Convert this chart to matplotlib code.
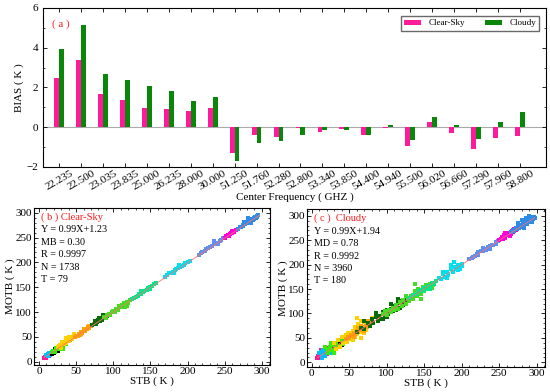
import numpy as np
import matplotlib.pyplot as plt

plt.rcParams['font.family'] = ['Liberation Serif', 'DejaVu Serif']

# ---- panel (a): bias per channel
freqs = ['22.235', '22.500', '23.035', '23.835', '25.000', '26.235', '28.000', '30.000',
         '51.250', '51.760', '52.280', '52.800', '53.340', '53.850', '54.400', '54.940',
         '55.500', '56.020', '56.660', '57.290', '57.960', '58.800']
bias_clear = [2.49, 3.38, 1.67, 1.35, 0.96, 0.91, 0.82, 0.98, -1.31, -0.40, -0.51, -0.02,
              -0.25, -0.08, -0.39, -0.05, -0.94, 0.24, -0.30, -1.09, -0.56, -0.42]
bias_cloudy = [3.94, 5.12, 2.66, 2.39, 2.09, 1.83, 1.31, 1.53, -1.68, -0.77, -0.71, -0.40,
               -0.15, -0.15, -0.40, 0.12, -0.64, 0.49, 0.10, -0.57, 0.27, 0.74]

# ---- scatter groups (STB, MOTB) (b) and (c)
group_colors = ['#ff1493', '#00bfff', 'black', '#33ee00', '#ffd000', '#ffa000', '#0a6a0a',
                '#44dd22', '#00e88a', '#00e0ee', '#5b8ff0', '#ff00dd', '#2f8be8']

clear_pts = [
    [(7,8),(8,9),(8,10),(9,9),(9,11),(10,10),(10,12),(11,11),(11,13),(12,12),(12,14),(13,13),(14,14),(15,15),(9,8),(13,12)],
    [(10,14),(12,15),(13,17),(14,13),(15,18),(16,16),(17,19),(18,17),(19,21),(20,20),(12,11),(15,14),(21,22),(17,15)],
    [(17,16),(19,20),(20,18),(21,23),(22,21),(23,22),(24,26),(25,24),(26,25),(27,28),(28,27),(22,25),(25,21),(29,30),(30,29)],
    [(18,20),(20,22),(22,19),(23,27),(25,29),(27,25),(28,31),(30,33),(32,30),(34,38),(36,35),(38,42),(40,41),(42,44),(44,47),(33,26)],
    [(25,30),(27,32),(29,34),(30,28),(32,36),(34,35),(35,40),(37,38),(38,44),(40,42),(42,45),(43,48),(45,46),(46,50),(48,49),(36,47),(40,50),(47,55),(31,40)],
    [(48,50),(50,52),(52,51),(54,56),(55,54),(57,60),(58,58),(60,63),(62,61),(63,66),(65,65),(66,69),(68,68),(70,72),(72,73),(74,75),(76,78),(61,65),(67,71),(56,55)],
    [(72,74),(75,77),(77,75),(78,80),(80,83),(82,81),(84,86),(85,84),(87,89),(88,87),(90,92),(92,91),(75,81),(81,88),(86,93)],
    [(88,90),(90,88),(92,94),(94,96),(96,95),(98,100),(100,102),(102,100),(104,106),(106,105),(108,112),(110,110),(112,115),(113,111),(115,118),(117,116),(118,121),(120,119),(122,124),(116,110),(119,113)],
    [(125,127),(128,129),(130,131),(133,133),(135,136),(137,136),(140,141),(142,143),(145,145),(147,148),(149,150),(152,152),(155,156),(158,158),(138,143),(150,146)],
    [(170,171),(173,174),(175,178),(178,178),(180,181),(183,184),(185,186),(187,188),(190,191),(192,193),(195,195),(197,199),(200,200),(203,203),(188,195),(182,178)],
    [(215,215),(218,218),(220,221),(223,222),(225,226),(228,229),(230,230),(233,233),(235,236),(238,239),(240,240),(243,243),(245,246),(248,249),(235,243),(241,236)],
    [(250,250),(252,253),(254,254),(255,256),(257,257),(258,259),(260,260),(262,262),(263,264),(265,265),(256,253),(260,263)],
    [(268,268),(270,271),(272,272),(274,275),(275,273),(277,278),(278,280),(280,281),(281,279),(283,284),(284,286),(285,283),(287,288),(288,285),(289,290),(290,288),(291,292),(292,290),(293,294),(294,292),(295,295),(282,290),(286,280),(276,282)],
]

cloudy_pts = [
    [(7,8),(8,12),(9,10),(10,15),(10,9),(11,13),(12,18),(12,11),(13,16),(14,20),(14,12),(15,15),(16,22),(16,17),(17,14),(18,19),(18,25),(19,21),(20,17),(21,23),(22,27),(23,20),(24,26),(25,22),(12,25),(9,18),(20,30)],
    [(10,20),(12,22),(14,16),(15,25),(17,24),(19,27),(20,18),(22,24),(24,30),(26,28),(28,22),(13,8),(18,12),(25,18),(30,30),(27,33)],
    [(25,27),(28,32),(30,35),(32,30),(33,38),(35,36),(36,41),(37,39),(38,43),(39,37),(40,42),(41,40),(42,45),(43,41),(45,44),(34,40),(38,38),(40,36),(30,28),(46,50)],
    [(20,28),(22,20),(24,32),(26,25),(28,36),(30,26),(32,40),(34,33),(36,45),(38,34),(40,48),(42,38),(44,50),(46,42),(48,53),(50,47),(26,40),(30,18),(18,32)],
    [(30,40),(32,28),(35,45),(38,32),(40,52),(42,40),(45,55),(47,42),(50,60),(52,48),(55,65),(57,52),(58,72),(60,58),(62,78),(64,62),(66,85),(68,70),(70,82),(72,66),(75,80),(78,75),(60,90),(55,45),(48,60),(70,60),(80,90),(65,50)],
    [(45,48),(48,52),(50,50),(52,56),(54,53),(56,60),(58,57),(60,64),(62,61),(64,67),(66,66),(68,72),(70,70),(72,75),(74,73),(76,80),(78,77),(80,83),(62,70),(70,64),(56,52),(75,85),(65,75)],
    [(60,62),(65,70),(70,68),(75,80),(78,74),(80,88),(82,80),(85,92),(88,85),(90,95),(92,88),(95,102),(98,95),(100,108),(102,98),(105,110),(108,104),(110,115),(112,108),(115,122),(118,112),(120,125),(122,118),(125,128),(85,100),(95,88),(105,120),(70,85),(115,130),(100,92)],
    [(95,98),(98,104),(100,96),(103,108),(105,102),(108,112),(110,107),(112,118),(115,110),(118,124),(120,115),(122,128),(125,120),(128,132),(130,126),(132,136),(135,130),(138,145),(140,135),(142,150),(145,140),(148,155),(150,145),(152,158),(155,150),(158,160),(160,152),(138,160),(145,130),(125,135),(162,158)],
    [(130,132),(135,137),(140,140),(145,147),(148,146),(150,152),(153,151),(155,157),(158,156),(160,162),(163,161),(165,166),(143,145),(157,150)],
    [(170,172),(172,170),(175,180),(178,175),(180,185),(182,178),(185,190),(188,184),(190,196),(192,190),(195,200),(197,192),(200,202),(198,195),(185,200),(190,205),(180,172),(195,188),(175,185),(200,198)],
    [(210,212),(213,214),(215,216),(218,217),(220,222),(222,220),(225,227),(228,227),(230,232),(232,230),(235,237),(238,238),(240,241),(242,240),(245,246),(248,248),(228,234),(238,232),(222,226),(245,242)],
    [(250,250),(252,252),(254,256),(255,253),(257,258),(258,255),(260,262),(262,260),(263,265),(265,263),(267,268),(268,266),(270,272),(256,260),(264,259),(258,264),(272,270)],
    [(265,266),(268,270),(270,268),(272,275),(274,272),(275,278),(276,274),(278,282),(280,277),(281,284),(282,280),(284,286),(285,283),(286,289),(287,284),(288,291),(289,288),(290,293),(291,289),(292,295),(293,291),(294,297),(295,294),(296,298),(297,295),(298,296),(280,292),(285,296),(275,286),(290,300),(294,288),(283,275)],
]

clear_fit = (0.99, 1.23)
cloudy_fit = (0.99, 1.94)
clear_stats = ['Y = 0.99X+1.23', 'MB = 0.30', 'R = 0.9997', 'N = 1738', 'T = 79']
cloudy_stats = ['Y = 0.99X+1.94', 'MD = 0.78', 'R = 0.9992', 'N = 3960', 'T = 180']

fig = plt.figure(figsize=(5.5, 3.92), dpi=100)

def style_ticks(ax):
    ax.tick_params(direction='in', top=True, right=True, labelsize=8, length=3, width=0.6)
    ax.tick_params(which='minor', direction='in', top=True, right=True, length=1.5, width=0.5)
    for s in ax.spines.values():
        s.set_linewidth(0.8)

# panel a
ax = fig.add_axes([0.078, 0.574, 0.915, 0.406])
x = np.arange(len(freqs))
w = 0.22
ax.bar(x - w/2, bias_clear, w, color='#ff1a9c', label='Clear-Sky')
ax.bar(x + w/2, bias_cloudy, w, color='#0a860a', label='Cloudy')
ax.axhline(0, color='#aaaaaa', lw=0.8, zorder=0)
ax.set_xlim(-0.74, 22.2)
ax.set_ylim(-2, 6)
ax.set_yticks([-2, 0, 2, 4, 6])
ax.set_xticks(x)
ax.set_xticklabels(freqs, rotation=30, ha='center', fontsize=7.5)
ax.set_xlabel('Center Frequency ( GHZ )', fontsize=8, labelpad=1)
ax.set_ylabel('BIAS ( K )', fontsize=8, labelpad=2)
ax.text(0.018, 0.88, '( a )', color='#ff2020', fontsize=8, transform=ax.transAxes)
ax.legend(loc='upper right', ncol=2, fontsize=6.5, frameon=True, fancybox=False,
          edgecolor='#444444', borderpad=0.35, handlelength=1.9, handleheight=0.5,
          columnspacing=2.2, handletextpad=0.8, bbox_to_anchor=(0.995, 0.975))
ax.yaxis.set_minor_locator(plt.MultipleLocator(1))
style_ticks(ax)
ax.tick_params(axis='x', which='major', pad=1)

def scatter_panel(rect, pts, fit, stats, title, ylim):
    ax = fig.add_axes(rect)
    for col, grp in zip(group_colors, pts):
        g = np.array(grp)
        ax.scatter(g[:, 0], g[:, 1], s=5, marker='s', color=col, linewidths=0)
    xs = np.array([7, 297])
    ax.plot(xs, fit[0] * xs + fit[1], color='#ff7070', lw=0.6, zorder=3)
    ax.set_xlim(-6.5, 311)
    ax.set_ylim(*ylim)
    ax.set_xticks(np.arange(0, 301, 50))
    ax.set_yticks(np.arange(0, 301, 50))
    ax.xaxis.set_minor_locator(plt.MultipleLocator(10))
    ax.yaxis.set_minor_locator(plt.MultipleLocator(10))
    ax.set_xlabel('STB ( K )', fontsize=8, labelpad=0)
    ax.set_ylabel('MOTB ( K )', fontsize=8, labelpad=0)
    style_ticks(ax)
    ax.tick_params(labelsize=8, pad=1.5)
    ax.text(0.03, 0.943, title, color='#ff1a1a', fontsize=7.5, va='center',
            transform=ax.transAxes)
    for i, s in enumerate(stats):
        ax.text(0.03, 0.86 - i * 0.079, s, color='black', fontsize=7.3, va='center',
                transform=ax.transAxes)
    return ax

scatter_panel([0.062, 0.068, 0.429, 0.402], clear_pts, clear_fit, clear_stats,
              '( b ) Clear-Sky', (-7.4, 310))
scatter_panel([0.558, 0.064, 0.433, 0.403], cloudy_pts, cloudy_fit, cloudy_stats,
              '( c )  Cloudy', (-9.5, 314))

fig.savefig('out.png', dpi=100)
